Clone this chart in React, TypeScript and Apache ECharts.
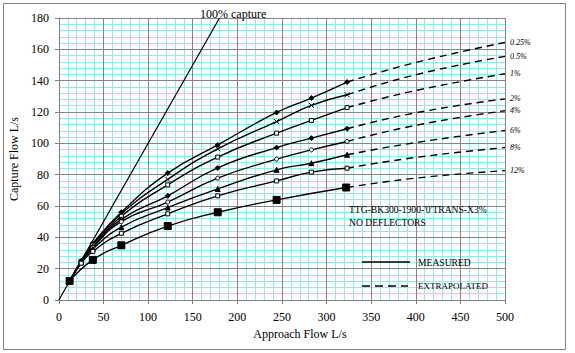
import React, { useEffect, useRef } from "react";
import * as echarts from "echarts";

// ---- data ----
const xTicks = [0, 50, 100, 150, 200, 250, 300, 350, 400, 450, 500];
const yTicks = [0, 20, 40, 60, 80, 100, 120, 140, 160, 180];

const seriesNames = ["0.25%", "0.5%", "1%", "2%", "4%", "6%", "8%", "12%"];

const measuredX = [12, 25, 38, 70, 122, 178, 244, 283, 323];
const measured025 = [12, 25, 36, 56, 81, 99, 119.7, 128.9, 139.1];
const measured05 = [12, 24.8, 35.5, 55, 77, 96.5, 113.9, 124.2, 131];
const measured1 = [12, 24.6, 35, 53.5, 73.5, 91.2, 106.5, 114.6, 122.8];
const measured2 = [12, 24.4, 34, 51.5, 66.5, 84.3, 97.3, 103.3, 109.3];
const measured4 = [12, 24.2, 33.5, 50, 62.5, 77.8, 89.9, 95.8, 101.2];
const measured6 = [12, 24, 32.5, 46.5, 59, 70.9, 83.1, 87.3, 92.7];
const measured8 = [12, 23.5, 31, 42.6, 55, 66.5, 76, 81.6, 84.1];
const measured12X = [12, 38, 70, 122, 178, 244, 322];
const measured12 = [12.1, 25.6, 34.9, 47.2, 56, 63.9, 71.8];

const extrapX = [323, 400, 500];
const extrap025 = [139.1, 151.6, 164.4];
const extrap05 = [131, 143.8, 155.5];
const extrap1 = [122.8, 133.7, 144.4];
const extrap2 = [109.3, 119.5, 128.4];
const extrap4 = [101.2, 111.5, 120.8];
const extrap6 = [92.7, 100.5, 108.2];
const extrap8 = [84.1, 91, 97.3];
const extrap12 = [71.8, 77.8, 82.6];

const fullCaptureX = [0, 180];
const fullCaptureY = [0, 180];

const measuredSets = [
  { x: measuredX, y: measured025 },
  { x: measuredX, y: measured05 },
  { x: measuredX, y: measured1 },
  { x: measuredX, y: measured2 },
  { x: measuredX, y: measured4 },
  { x: measuredX, y: measured6 },
  { x: measuredX, y: measured8 },
  { x: measured12X, y: measured12 },
];
const extrapSets = [extrap025, extrap05, extrap1, extrap2, extrap4, extrap6, extrap8, extrap12];

// ---- styles ----
const SERIF = '"Liberation Serif", "Times New Roman", serif';
const CROSS = "path://M0,0L10,10M10,0L0,10";
const markerStyles = [
  { symbol: "diamond", size: 5, fill: "#000" },
  { symbol: CROSS, size: 5, fill: "none" },
  { symbol: "rect", size: 4, fill: "#fff" },
  { symbol: "diamond", size: 5, fill: "#000" },
  { symbol: "circle", size: 4, fill: "#fff" },
  { symbol: "triangle", size: 5, fill: "#000" },
  { symbol: "rect", size: 4, fill: "#fff" },
  { symbol: "rect", size: 7, fill: "#000" },
];

const zip = (xs: number[], ys: number[]) => xs.map((x, i) => [x, ys[i]]);

export default function App() {
  const ref = useRef<HTMLDivElement>(null);

  useEffect(() => {
    if (!ref.current) return;
    const chart = echarts.init(ref.current, null, { renderer: "svg" });

    const series: any[] = [];
    series.push({
      name: "100% capture",
      type: "line",
      xAxisIndex: 1,
      yAxisIndex: 1,
      data: zip(fullCaptureX, fullCaptureY),
      symbol: "none",
      lineStyle: { color: "#000", width: 1.2 },
      z: 3,
    });
    seriesNames.forEach((name, i) => {
      const m = markerStyles[i];
      series.push({
        name,
        type: "line",
        xAxisIndex: 1,
        yAxisIndex: 1,
        data: zip(measuredSets[i].x, measuredSets[i].y),
        smooth: 0.5,
        symbol: m.symbol,
        symbolSize: m.size,
        showSymbol: true,
        itemStyle: { color: m.fill, borderColor: "#000", borderWidth: 1 },
        lineStyle: { color: "#000", width: 1.4 },
        z: 4,
      });
      series.push({
        name: name + " extrapolated",
        type: "line",
        xAxisIndex: 1,
        yAxisIndex: 1,
        data: zip(extrapX, extrapSets[i]),
        smooth: 0.5,
        symbol: "none",
        lineStyle: { color: "#000", width: 1.4, type: [7, 5] },
        endLabel: {
          show: true,
          formatter: () => name,
          fontFamily: SERIF,
          fontStyle: "italic",
          fontSize: 8,
          color: "#000",
          distance: 5,
        },
        z: 4,
      });
    });

    const txt = (text: string, x: number, y: number, size: number) => ({
      type: "text",
      silent: true,
      z: 10,
      style: {
        text,
        x,
        y,
        font: `${size}px ${SERIF}`,
        fill: "#000",
        align: "left",
        verticalAlign: "middle",
        textAlign: "left",
        textVerticalAlign: "middle",
      },
    });

    const baseX = {
      type: "value",
      min: 0,
      max: 500,
      interval: 50,
      position: "bottom",
    };
    const baseY = {
      type: "value",
      min: 0,
      max: 180,
      interval: 20,
      position: "left",
    };
    const labelStyle = { fontFamily: SERIF, fontSize: 12, color: "#000" };
    const minorColor = "#8aeeee";

    chart.setOption({
      animation: false,
      backgroundColor: "#fff",
      grid: { left: 52, right: 70, top: 18, bottom: 53, containLabel: false },
      xAxis: [
        {
          ...baseX,
          z: 0,
          axisLine: { show: false },
          axisTick: { show: false },
          axisLabel: { show: false },
          splitLine: { show: false },
          minorTick: { show: false, splitNumber: 5 },
          minorSplitLine: { show: true, lineStyle: { color: minorColor, width: 1 } },
        },
        {
          ...baseX,
          z: 1,
          axisLine: { show: true, onZero: false, lineStyle: { color: "#808080", width: 1 } },
          axisTick: { show: true, length: 4, lineStyle: { color: "#808080" } },
          axisLabel: {
            ...labelStyle,
            margin: 11,
            formatter: (v: number) => (xTicks.includes(v) ? String(v) : ""),
          },
          splitLine: { show: true, lineStyle: { color: "#858585", width: 1 } },
          name: "Approach Flow L/s",
          nameLocation: "middle",
          nameGap: 27,
          nameTextStyle: { ...labelStyle, padding: [0, 0, 0, 36] },
        },
      ],
      yAxis: [
        {
          ...baseY,
          z: 0,
          axisLine: { show: false },
          axisTick: { show: false },
          axisLabel: { show: false },
          splitLine: { show: false },
          minorTick: { show: false, splitNumber: 5 },
          minorSplitLine: { show: true, lineStyle: { color: minorColor, width: 1 } },
        },
        {
          ...baseY,
          z: 1,
          axisLine: { show: true, onZero: false, lineStyle: { color: "#808080", width: 1 } },
          axisTick: { show: true, length: 4, lineStyle: { color: "#808080" } },
          axisLabel: {
            ...labelStyle,
            margin: 10,
            formatter: (v: number) => (yTicks.includes(v) ? String(v) : ""),
          },
          splitLine: { show: true, lineStyle: { color: "#858585", width: 1 } },
          name: "Capture Flow L/s",
          nameLocation: "middle",
          nameGap: 31,
          nameTextStyle: { ...labelStyle, padding: [0, 0, 5, 0] },
        },
      ],
      series,
      graphic: [
        {
          type: "rect",
          silent: true,
          z: 10,
          shape: { x: 3.5, y: 3.5, width: 562, height: 346 },
          style: { fill: "none", stroke: "#808080", lineWidth: 1 },
        },
        txt("100% capture", 200, 14, 12),
        txt("TTG-BK300-1900-'0'TRANS-X3%", 349, 209.5, 9.6),
        txt("NO DEFLECTORS", 349, 222, 9.6),
        {
          type: "line",
          silent: true,
          z: 10,
          shape: { x1: 362, y1: 262, x2: 410, y2: 262 },
          style: { stroke: "#000", lineWidth: 1.5 },
        },
        {
          type: "line",
          silent: true,
          z: 10,
          shape: { x1: 362, y1: 286, x2: 408, y2: 286 },
          style: { stroke: "#000", lineWidth: 1.5, lineDash: [8, 5] },
        },
        txt("MEASURED", 418, 262, 9.6),
        txt("EXTRAPOLATED", 418, 286, 9),
      ],
    });

    return () => chart.dispose();
  }, []);

  return (
    <div
      ref={ref}
      style={{ position: "fixed", left: 0, top: 0, width: 575, height: 353 }}
    />
  );
}
